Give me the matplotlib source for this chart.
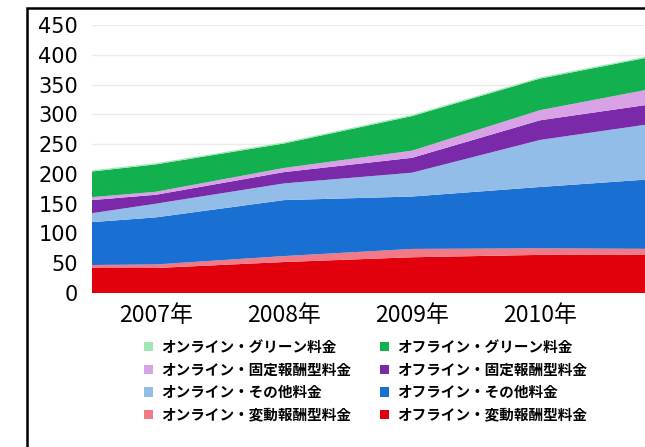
import matplotlib
matplotlib.use("Agg")
import matplotlib.pyplot as plt
from matplotlib.patches import Rectangle

plt.rcParams['font.family'] = ['Noto Sans CJK JP', 'DejaVu Sans']

# Sample points (years); the first point sits half a year before 2007
years = [2006.5, 2007, 2008, 2009, 2010, 2011]
tick_years = [2007, 2008, 2009, 2010]
tick_labels = ["2007年", "2008年", "2009年", "2010年"]

# Series values, bottom of the stack first
off_hendou = [42, 42, 52, 60, 64, 64]      # オフライン・変動報酬型料金
on_hendou = [5, 6, 10, 14, 11, 10]         # オンライン・変動報酬型料金
off_sonota = [72, 79, 94, 88, 103, 119]    # オフライン・その他料金
on_sonota = [15, 23, 28, 40, 79, 95]       # オンライン・その他料金
off_kotei = [22, 15, 19, 25, 33, 33]       # オフライン・固定報酬型料金
on_kotei = [5, 5, 7, 12, 17, 27]           # オンライン・固定報酬型料金
off_green = [43, 46, 41, 58, 53, 54]       # オフライン・グリーン料金
on_green = [2, 2, 2, 2, 2, 2]              # オンライン・グリーン料金

series = [off_hendou, on_hendou, off_sonota, on_sonota,
          off_kotei, on_kotei, off_green, on_green]
names = ["オフライン・変動報酬型料金", "オンライン・変動報酬型料金",
         "オフライン・その他料金", "オンライン・その他料金",
         "オフライン・固定報酬型料金", "オンライン・固定報酬型料金",
         "オフライン・グリーン料金", "オンライン・グリーン料金"]
colors = ["#e2000c", "#f27a86", "#1a6fd2", "#92bde9",
          "#7a2aa8", "#d9a2e6", "#12b04e", "#9fe8b4"]

W, H = 645, 447
fig = plt.figure(figsize=(W / 100, H / 100), dpi=100)

# outer chart frame (left and top edges visible)
fig.patches.append(Rectangle((27 / W, -0.1), 1.2, (H - 8) / H + 0.1,
                             transform=fig.transFigure, fill=False,
                             edgecolor="black", linewidth=1.8))

ax = fig.add_axes([92 / W, (H - 293) / H, (W - 92) / W, (293 - 25) / H])
polys = ax.stackplot(years, *series, colors=colors, labels=names,
                     linewidth=0, zorder=2)

ax.set_xlim(2006.5, 2006.5 + (W - 92) / 128)
ax.set_ylim(0, 450)
ax.set_yticks(range(0, 451, 50))
ax.set_yticklabels([str(v) for v in range(0, 451, 50)],
                   fontsize=15, family="DejaVu Sans")
ax.set_xticks(tick_years)
ax.set_xticklabels(tick_labels, fontsize=16.5)
ax.tick_params(axis="both", length=0)
ax.tick_params(axis="y", pad=10)
ax.tick_params(axis="x", pad=8)
for s in ax.spines.values():
    s.set_visible(False)
ax.grid(axis="y", color="#eeeaea", linewidth=1.0, zorder=0)
ax.set_axisbelow(True)

# legend: online series in the first column, offline in the second
order = [7, 5, 3, 1, 6, 4, 2, 0]
handles = [polys[i] for i in order]
labels = [names[i] for i in order]
fig.legend(handles, labels, ncol=2, loc="upper left",
           bbox_to_anchor=(144 / W, (H - 339) / H),
           bbox_transform=fig.transFigure, frameon=False,
           prop={"size": 10.5, "weight": "bold"},
           handlelength=0.6, handleheight=0.6, handletextpad=0.55,
           columnspacing=2.0, labelspacing=0.45, borderpad=0,
           borderaxespad=0)

fig.savefig("out.png", dpi=100)
